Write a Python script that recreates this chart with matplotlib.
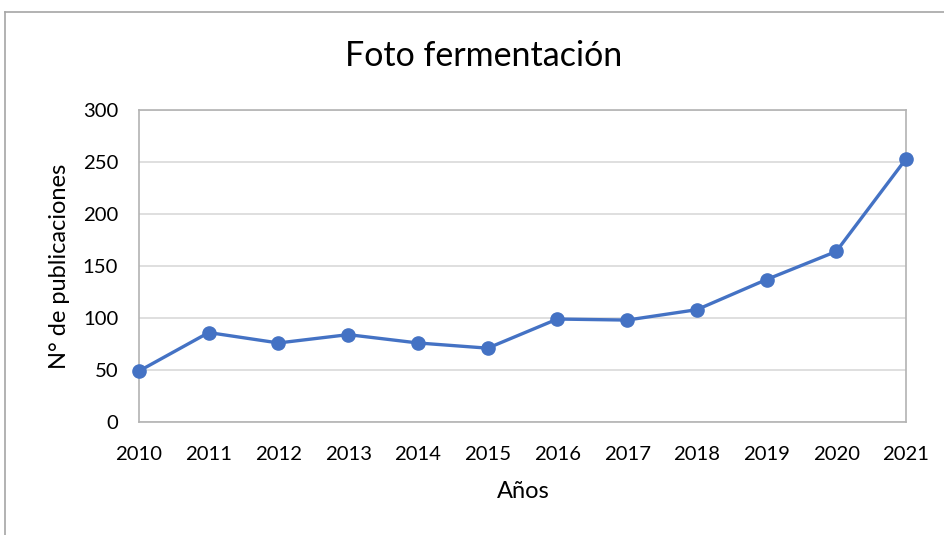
import matplotlib
matplotlib.use("Agg")
import matplotlib.pyplot as plt
from matplotlib.lines import Line2D

years = ["2010", "2011", "2012", "2013", "2014", "2015", "2016", "2017", "2018", "2019", "2020", "2021"]
publicaciones = [49, 86, 76, 84, 76, 71, 99, 98, 108, 137, 164, 253]
yticks = [0, 50, 100, 150, 200, 250, 300]

plt.rcParams['font.family'] = ['Lato', 'DejaVu Sans']

fig = plt.figure(figsize=(9.45, 5.35), dpi=100)
ax = fig.add_axes([139/945, (535-422)/535, (906-139)/945, (422-110)/535])

x = list(range(len(years)))
ax.plot(x, publicaciones, color="#4472C4", linewidth=2.4, marker="o",
        markersize=9.5, zorder=3, clip_on=False)

ax.set_xlim(0, len(years) - 1)
ax.set_ylim(0, 300)
ax.set_yticks(yticks)
ax.set_xticks(x)
ax.set_xticklabels(years)
ax.tick_params(axis="both", length=0, labelsize=14.6, colors="#000000")
ax.tick_params(axis="y", pad=15)
ax.tick_params(axis="x", pad=17)
ax.grid(axis="y", color="#D9D9D9", linewidth=1.2)
ax.set_axisbelow(True)
for s in ax.spines.values():
    s.set_color("#B3B3B3")
    s.set_linewidth(1.2)

fig.text(484/945, 1 - 56/535, "Foto fermentación", ha="center", va="center", fontsize=24.5)
fig.text(523/945, 1 - 492/535, "Años", ha="center", va="center", fontsize=17)
fig.text(60/945, 1 - 266/535, "N° de publicaciones", ha="center", va="center",
         fontsize=17, rotation=90)

# outer chart frame (left and top edges visible)
fig.add_artist(Line2D([5/945, 5/945], [0, 1 - 12/535], transform=fig.transFigure,
                      color="#A6A6A6", linewidth=1.2))
fig.add_artist(Line2D([5/945, 1], [1 - 12/535, 1 - 12/535], transform=fig.transFigure,
                      color="#A6A6A6", linewidth=1.2))

fig.savefig("out.png", dpi=100)
